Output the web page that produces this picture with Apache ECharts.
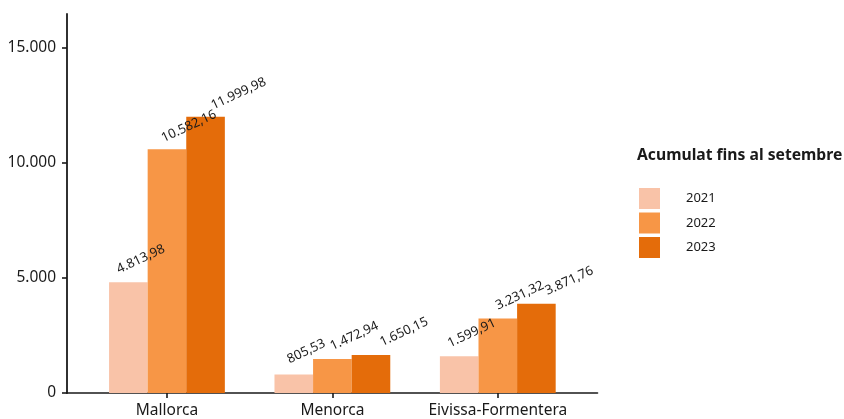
<!DOCTYPE html>
<html>
<head>
<meta charset="utf-8">
<script src="https://cdn.jsdelivr.net/npm/echarts@6/dist/echarts.min.js"></script>
<style>html,body{margin:0;padding:0;background:#fff;}#c{width:844px;height:419px;}</style>
</head>
<body>
<div id="c"></div>
<script>
var categories = ['Mallorca', 'Menorca', 'Eivissa-Formentera'];
var seriesNames = ['2021', '2022', '2023'];
var values2021 = [4813.98, 805.53, 1599.91];
var values2022 = [10582.16, 1472.94, 3231.32];
var values2023 = [11999.98, 1650.15, 3871.76];
var yTicks = [0, 5000, 10000, 15000];
var legendTitle = 'Acumulat fins al setembre';
var colors = ['#f9c3a8', '#f79646', '#e46c0a'];

function thousands(s) { return s.replace(/\B(?=(\d{3})+(?!\d))/g, '.'); }
function fmtInt(v) { return thousands(String(Math.round(v))); }
function fmtDec(v) {
  var p = v.toFixed(2).split('.');
  return thousands(p[0]) + ',' + p[1];
}

var FONT = '"Noto Sans", "Open Sans", sans-serif';
var YMAX = 16460;
var TOP = 14, BOTTOM = 26;
var AX = '#1a1a1a';
var ROT = 25;
// desired on-screen shift of each label centre from the bar top centre
var labelShift = [[12.5, -23], [22, -23], [33, -23]];
function unrotate(s) {
  var t = ROT * Math.PI / 180, c = Math.cos(t), n = Math.sin(t);
  return [s[0] * c - s[1] * n, s[0] * n + s[1] * c];
}

var chart = echarts.init(document.getElementById('c'), null, {renderer: 'canvas'});
var allVals = [values2021, values2022, values2023];
var series = seriesNames.map(function (name, i) {
  return {
    name: name, type: 'bar', xAxisIndex: 1, yAxisIndex: 1,
    data: allVals[i],
    barGap: '0%', barCategoryGap: '30%',
    itemStyle: {color: colors[i]},
    label: {
      show: true, position: 'top', distance: 0, rotate: ROT,
      align: 'center', verticalAlign: 'middle', offset: unrotate(labelShift[i]),
      fontFamily: FONT, fontSize: 13, color: AX,
      formatter: function (p) { return fmtDec(p.value); }
    }
  };
});

chart.setOption({
  animation: false,
  textStyle: {fontFamily: FONT},
  title: {
    text: legendTitle, left: 637, top: 148, padding: 0,
    textStyle: {fontFamily: FONT, fontSize: 15.7, fontWeight: 'bold', color: AX}
  },
  legend: {
    orient: 'vertical', left: 639, top: 188, padding: 0,
    itemWidth: 21, itemHeight: 21, itemGap: 3.5, icon: 'rect',
    data: seriesNames,
    textStyle: {fontFamily: FONT, fontSize: 13, color: AX, padding: [0, 0, 0, 21]}
  },
  grid: [
    {left: 67, right: 246.5, top: TOP, bottom: BOTTOM},
    {left: 84.25, right: 263.5, top: TOP, bottom: BOTTOM}
  ],
  xAxis: [
    {
      type: 'value', gridIndex: 0, min: 0, max: 1,
      axisLine: {show: true, onZero: false, lineStyle: {color: AX, width: 1.6}},
      axisTick: {show: false}, axisLabel: {show: false}, splitLine: {show: false}
    },
    {
      type: 'category', gridIndex: 1, data: categories,
      axisLine: {show: false},
      axisTick: {show: true, alignWithLabel: true, length: 5, lineStyle: {color: AX, width: 1.6}},
      axisLabel: {fontFamily: FONT, fontSize: 15.5, color: AX, margin: 10, interval: 0},
      splitLine: {show: false}
    }
  ],
  yAxis: [
    {
      type: 'value', gridIndex: 0, min: 0, max: YMAX,
      axisLine: {show: true, lineStyle: {color: AX, width: 1.8}},
      axisTick: {show: true, length: 5, customValues: yTicks, lineStyle: {color: AX, width: 1.6}},
      axisLabel: {fontFamily: FONT, fontSize: 15.5, color: AX, margin: 11, customValues: yTicks,
        formatter: function (v) { return fmtInt(v); }},
      splitLine: {show: false}
    },
    {
      type: 'value', gridIndex: 1, min: 0, max: YMAX, show: false,
      splitLine: {show: false}
    }
  ],
  series: series
});
</script>
</body>
</html>
